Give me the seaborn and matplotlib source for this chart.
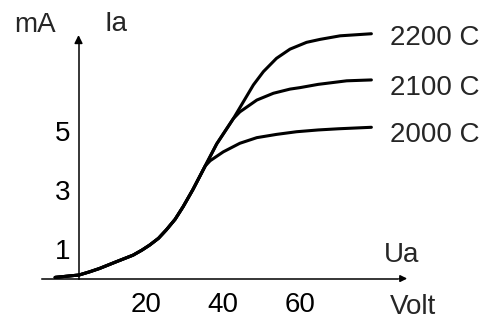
import pandas as pd
import matplotlib.pyplot as plt
import seaborn as sns

# values
volt_common = [-3.5, 2.7, 5.5, 8.0, 12.4, 16.7, 19.0, 21.0, 23.3, 25.3, 27.6, 29.7, 32.2, 35.4]
ia_common = [0.04, 0.12, 0.23, 0.34, 0.57, 0.79, 0.96, 1.13, 1.36, 1.64, 2.0, 2.43, 3.0, 3.8]

volt_2000 = [36.7, 40.1, 44.4, 48.8, 53.9, 59.1, 64.7, 70.0, 78.5]
ia_2000 = [3.98, 4.28, 4.57, 4.76, 4.87, 4.96, 5.02, 5.06, 5.11]

volt_upper = [38.4, 42.7]
ia_upper = [4.55, 5.4]

volt_2100 = [44.4, 48.8, 53.1, 57.4, 60.0, 64.7, 72.1, 78.5]
ia_2100 = [5.63, 6.03, 6.26, 6.40, 6.45, 6.56, 6.68, 6.71]

volt_2200 = [45.3, 47.9, 50.5, 53.9, 57.4, 61.7, 65.2, 70.4, 78.5]
ia_2200 = [5.97, 6.54, 6.99, 7.44, 7.75, 7.98, 8.08, 8.20, 8.27]

temps = ['2000 C', '2100 C', '2200 C']
label_y = [4.61, 6.2, 7.89]
x_ticks = [20, 40, 60, 80]
x_labels = ['20', '40', '60', '']
y_ticks = [1, 2, 3, 4, 5, 6, 7]
y_labels = ['1', '', '3', '', '5', '', '']


def build_frame():
    rows = []
    branches = {
        '2000 C': (volt_common + volt_2000, ia_common + ia_2000),
        '2100 C': (volt_common + volt_upper + volt_2100, ia_common + ia_upper + ia_2100),
        '2200 C': (volt_common + volt_upper + volt_2200, ia_common + ia_upper + ia_2200),
    }
    for t, (xs, ys) in branches.items():
        for i, (x, y) in enumerate(zip(xs, ys)):
            rows.append({'temp': t, 'order': i, 'Ua': x, 'Ia': y})
    return pd.DataFrame(rows)


sns.set_style('white')
plt.rcParams['font.family'] = ['Liberation Sans', 'DejaVu Sans']

df = build_frame()
fig = plt.figure(figsize=(4.83, 3.20), dpi=100)
ax = fig.add_axes([0, 0, 1, 1])

sns.lineplot(data=df, x='Ua', y='Ia', hue='temp', units='temp', estimator=None,
             sort=False, palette=['black'] * 3, linewidth=2.2, legend=False, ax=ax)
for line in ax.get_lines():
    line.set_solid_joinstyle('round')

ax.set_xlim(-17.79, 107.44)
ax.set_ylim(-1.40, 9.41)

for s in ['top', 'right']:
    ax.spines[s].set_visible(False)
ax.spines['left'].set_position(('data', 2.57))
ax.spines['bottom'].set_position(('data', 0))
ax.spines['left'].set_bounds(0, 8.0)
ax.spines['bottom'].set_bounds(-7, 85.5)
for s in ['left', 'bottom']:
    ax.spines[s].set_linewidth(1.1)
    ax.spines[s].set_color('black')

ax.set_xticks(x_ticks, x_labels)
ax.set_yticks(y_ticks, y_labels)
ax.tick_params(axis='both', direction='in', length=4.5, width=1.1, colors='black',
               labelsize=20)
ax.tick_params(axis='x', pad=10)
ax.tick_params(axis='y', pad=6)
ax.set_xlabel('')
ax.set_ylabel('')

# arrow heads on the axes
ax.annotate('', xy=(2.57, 8.32), xytext=(2.57, 7.9),
            arrowprops=dict(arrowstyle='-|>', color='black', lw=1.1, mutation_scale=12))
ax.annotate('', xy=(88.5, 0), xytext=(85.0, 0),
            arrowprops=dict(arrowstyle='-|>', color='black', lw=1.1, mutation_scale=10))

ax.text(-8.7, 8.33, 'mA', fontsize=20, ha='center', va='baseline')
ax.text(12.3, 8.36, 'Ia', fontsize=20, ha='center', va='baseline')
ax.text(86.4, 0.56, 'Ua', fontsize=20, ha='center', va='baseline')
ax.text(89.3, -1.2, 'Volt', fontsize=20, ha='center', va='baseline')

for t, y in zip(temps, label_y):
    ax.text(83.3, y, t, fontsize=20, ha='left', va='baseline')

fig.savefig('out.png', dpi=100)
plt.close(fig)
